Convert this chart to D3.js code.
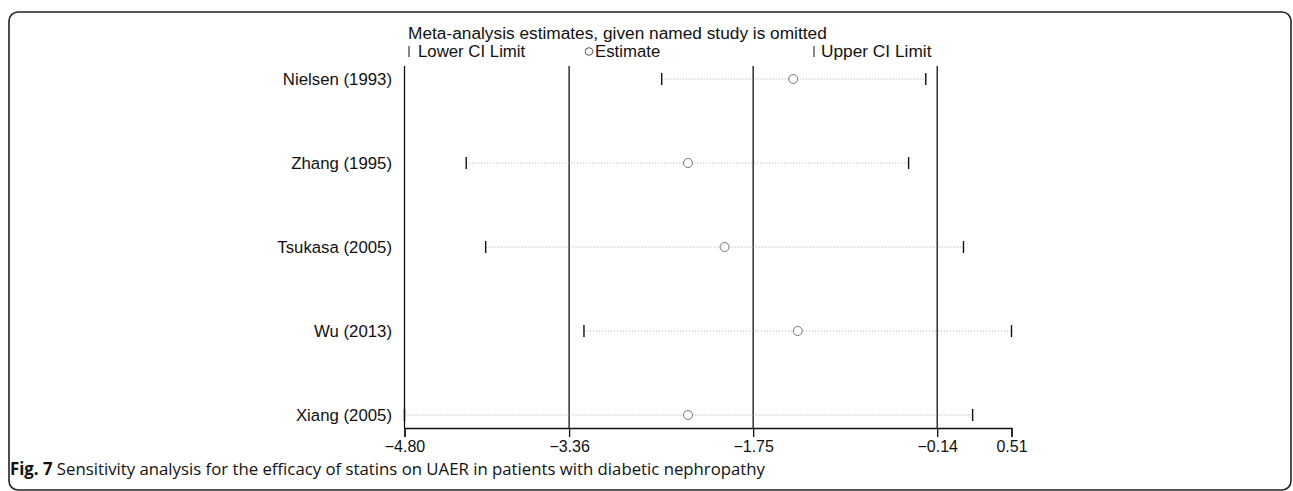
<!DOCTYPE html>
<html>
<head>
<meta charset="utf-8">
<script src="https://cdn.jsdelivr.net/npm/d3@7"></script>
<style>
  html, body { margin: 0; padding: 0; background: #fff; }
  svg { display: block; }
  text { fill: #111; }
</style>
</head>
<body>
<svg id="chart" width="1293" height="491"></svg>
<script>
// Sensitivity analysis: pooled estimate and CI with each study omitted
const studies = ["Nielsen (1993)", "Zhang (1995)", "Tsukasa (2005)", "Wu (2013)", "Xiang (2005)"];
const estimate = [-1.40, -2.32, -2.00, -1.36, -2.32];
const lowerCI = [-2.55, -4.26, -4.09, -3.23, -4.80];
const upperCI = [-0.24, -0.39, 0.09, 0.51, 0.17];
const tickValues = [-4.80, -3.36, -1.75, -0.14, 0.51];
const refLines = [-4.80, -3.36, -1.75, -0.14];

const sans = "'Liberation Sans', Arial, sans-serif";
const svg = d3.select("#chart");

// outer rounded frame
svg.append("rect")
  .attr("x", 9).attr("y", 12).attr("width", 1282).attr("height", 478)
  .attr("rx", 9).attr("ry", 9)
  .attr("fill", "none").attr("stroke", "#222").attr("stroke-width", 1.6);

const x = d3.scaleLinear().domain([-4.80, 0.51]).range([404.5, 1011.5]);
const y = d3.scalePoint().domain(studies).range([79, 415]);
const axisY = 428, topY = 66;

// vertical reference lines
svg.append("g").selectAll("line").data(refLines).join("line")
  .attr("x1", d => x(d)).attr("x2", d => x(d))
  .attr("y1", topY).attr("y2", axisY)
  .attr("stroke", "#111").attr("stroke-width", 1.3);

// x axis
const axis = d3.axisBottom(x).tickValues(tickValues).tickFormat(d3.format(".2f")).tickSizeOuter(0).tickSize(9);
const ax = svg.append("g").attr("transform", `translate(0,${axisY})`).call(axis);
ax.attr("font-family", null).attr("font-size", null);
ax.select(".domain").attr("stroke", "#111").attr("stroke-width", 1.3);
ax.selectAll(".tick line").attr("stroke", "#111").attr("stroke-width", 1.3);
ax.selectAll(".tick text")
  .style("font-family", sans).style("font-size", "16px")
  .attr("fill", "#111").attr("dy", "0.9em").attr("y", 10);

const rows = studies.map((s, i) => ({ s, est: estimate[i], lo: lowerCI[i], hi: upperCI[i] }));
const g = svg.append("g");

// dotted CI spans
g.selectAll("line.span").data(rows).join("line").attr("class", "span")
  .attr("x1", d => x(d.lo)).attr("x2", d => x(d.hi))
  .attr("y1", d => y(d.s)).attr("y2", d => y(d.s))
  .attr("stroke", "#a8a8a8").attr("stroke-width", 1).attr("stroke-dasharray", "1,2");

// CI end marks
["lo", "hi"].forEach(k => {
  g.selectAll("line.end-" + k).data(rows).join("line").attr("class", "end-" + k)
    .attr("x1", d => x(d[k])).attr("x2", d => x(d[k]))
    .attr("y1", d => y(d.s) - 6).attr("y2", d => y(d.s) + 6)
    .attr("stroke", "#111").attr("stroke-width", 1.4);
});

// estimates
g.selectAll("circle.est").data(rows).join("circle").attr("class", "est")
  .attr("cx", d => x(d.est)).attr("cy", d => y(d.s)).attr("r", 4.5)
  .attr("fill", "#fff").attr("stroke", "#777").attr("stroke-width", 1);

// study labels
g.selectAll("text.lab").data(rows).join("text").attr("class", "lab")
  .attr("x", 392).attr("y", d => y(d.s) + 6)
  .attr("text-anchor", "end")
  .style("font-family", sans).style("font-size", "16.8px")
  .text(d => d.s);

// legend
const legendText = (xp, yp, str, size) => svg.append("text").attr("x", xp).attr("y", yp)
  .style("font-family", sans).style("font-size", size + "px").text(str);
legendText(408, 39, "Meta-analysis estimates, given named study is omitted", 17.3);
const ly = 57;
svg.append("line").attr("x1", 409).attr("x2", 409).attr("y1", ly - 11).attr("y2", ly)
  .attr("stroke", "#111").attr("stroke-width", 1);
legendText(418, ly, "Lower CI Limit", 16.8);
svg.append("circle").attr("cx", 589).attr("cy", ly - 5.5).attr("r", 3.8)
  .attr("fill", "#fff").attr("stroke", "#555").attr("stroke-width", 1);
legendText(595, ly, "Estimate", 16.8);
svg.append("line").attr("x1", 814).attr("x2", 814).attr("y1", ly - 11).attr("y2", ly)
  .attr("stroke", "#111").attr("stroke-width", 1);
legendText(821, ly, "Upper CI Limit", 17.3);

// caption
const cap = svg.append("text").attr("x", 10).attr("y", 475)
  .style("font-family", "'Open Sans', sans-serif").style("font-size", "17px")
  .attr("textLength", 755).attr("lengthAdjust", "spacingAndGlyphs");
cap.append("tspan").style("font-weight", "bold").text("Fig. 7");
cap.append("tspan").text(" Sensitivity analysis for the efficacy of statins on UAER in patients with diabetic nephropathy");
</script>
</body>
</html>
